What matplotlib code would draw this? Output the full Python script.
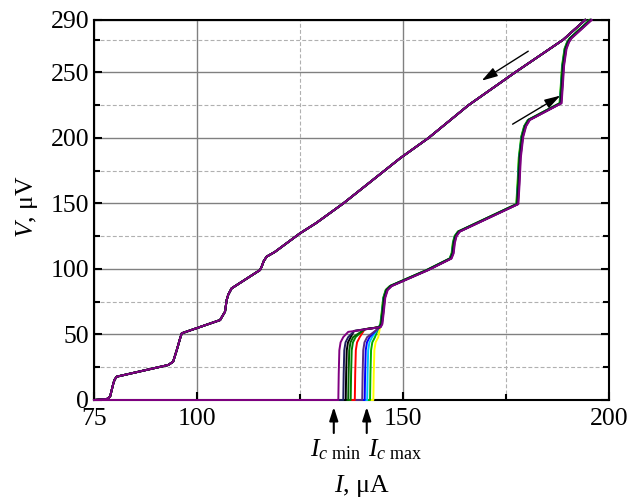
import matplotlib
matplotlib.use('Agg')
import matplotlib.pyplot as plt
from matplotlib.ticker import FixedLocator

plt.rcParams['font.family'] = ['Liberation Serif', 'DejaVu Serif']
plt.rcParams['mathtext.fontset'] = 'custom'
plt.rcParams['mathtext.rm'] = 'Liberation Serif'
plt.rcParams['mathtext.it'] = 'Liberation Serif:italic'
plt.rcParams['mathtext.bf'] = 'Liberation Serif:bold'

# ---------------- data ----------------
curve_colors = ['#FFFF00', '#00B000', '#00BFFF', '#0000FF', '#5A2A82',
                '#FF0000', '#008000', '#006400', '#000000', '#1F1F5F', '#800080']
switch_I = [142.8, 142.0, 141.3, 140.7, 140.1, 138.3, 137.3, 136.7, 136.1, 135.5, 134.3]
knee_I = [
    [142.8, 142.9, 143.05, 143.35, 144.0],
    [142.0, 142.1, 142.25, 142.55, 143.2],
    [141.3, 141.4, 141.55, 141.85, 142.5],
    [140.7, 140.8, 140.95, 141.25, 141.9],
    [140.1, 140.2, 140.35, 140.65, 141.3],
    [138.3, 138.4, 138.55, 138.85, 139.5],
    [137.3, 137.4, 137.55, 137.85, 138.5],
    [136.7, 136.8, 136.95, 137.25, 137.9],
    [136.1, 136.2, 136.35, 136.65, 137.3],
    [135.5, 135.6, 135.75, 136.05, 136.7],
    [134.3, 134.4, 134.55, 134.85, 135.5],
]
knee_V = [0, 20, 38, 44, 48]
step_shift = [-0.45, -0.5, -0.4, -0.35, -0.15, -0.3, -0.4, -0.25, -0.2, -0.1, 0.0]

# common increasing-current branch (after the first switching)
up_I = [136.7, 138.3, 141.0, 144.6, 145.0, 145.3, 145.7, 146.3, 147.3, 156.2,
        161.8, 162.3, 162.6, 163.0, 163.8, 178.0, 178.3, 178.6, 179.2, 179.9,
        180.8, 188.5, 188.8, 189.1, 189.7, 190.3, 190.9, 195.8]
up_V = [52.0, 52.7, 54.0, 55.6, 58, 66, 78, 84, 87, 99.2,
        108, 112, 120, 125, 128.5, 149.5, 165, 185, 201, 209,
        213.7, 226.5, 240, 255, 268, 273, 276, 290]

# decreasing-current branch
down_I = [194.2, 188.9, 177.2, 165.9, 156.2, 149.3, 135.5, 128.9, 125.0, 118.9,
          116.9, 116.2, 115.7, 115.3, 108.4, 107.6, 107.2, 106.8, 105.6, 96.3,
          95.9, 95.1, 94.2, 93.0, 80.5, 80.0, 79.7, 78.9, 78.1, 75.0]
down_V = [290, 275, 250, 225, 200, 184.5, 150, 135, 127.2, 113,
          109.4, 106, 101.8, 99.2, 85.2, 80.5, 76.3, 67.4, 61, 50.9,
          47, 38.2, 29.2, 26.7, 17.8, 15.5, 12.7, 2.5, 0.7, 0]

x_major = [75, 100, 150, 200]
x_minor = [125, 175]
y_major = [0, 50, 100, 150, 200, 250, 290]
y_minor = [25, 75, 125, 175, 225, 275]

ic_min, ic_max = 133.2, 141.2
sweep_arrows = [((180.4, 266.2), (169.1, 243.7)),   # (tail, head)
                ((176.6, 210.5), (188.2, 232.3))]

# ---------------- figure ----------------
fig = plt.figure(figsize=(6.36, 5.0), dpi=100)
ax = fig.add_axes([94 / 636, 100 / 500, 515 / 636, 380 / 500])
ax.set_xlim(75, 200)
ax.set_ylim(0, 290)

ax.xaxis.set_major_locator(FixedLocator(x_major))
ax.xaxis.set_minor_locator(FixedLocator(x_minor))
ax.yaxis.set_major_locator(FixedLocator(y_major))
ax.yaxis.set_minor_locator(FixedLocator(y_minor))
ax.set_axisbelow(True)
ax.grid(which='major', color='#808080', lw=1.0, ls='-')
ax.grid(which='minor', color='#b0b0b0', lw=0.8, ls=(0, (3.5, 2)))

for k, col in enumerate(curve_colors):
    xs = [75.0] + knee_I[k]
    ys = [0.0] + knee_V
    last = knee_I[k][-1]
    for xi, yi in zip(up_I, up_V):
        xi2 = xi + step_shift[k]
        if xi2 > last + 0.5:
            xs.append(xi2)
            ys.append(yi)
    ax.plot(xs, ys, color=col, lw=1.4, clip_on=False, zorder=3,
            solid_joinstyle='round')
    ax.plot(down_I, down_V, color=col, lw=1.4, clip_on=False, zorder=3,
            solid_joinstyle='round')

for tail, head in sweep_arrows:
    ax.annotate('', xy=head, xytext=tail,
                arrowprops=dict(arrowstyle='-|>,head_length=0.6,head_width=0.18',
                                color='black', lw=1.0, mutation_scale=16,
                                shrinkA=0, shrinkB=0))

for ic in (ic_min, ic_max):
    ax.annotate('', xy=(ic, -5.3), xytext=(ic, -25.2), annotation_clip=False,
                arrowprops=dict(arrowstyle='-|>,head_length=0.5,head_width=0.16',
                                color='black', lw=1.5, mutation_scale=16,
                                shrinkA=0, shrinkB=0))
ax.text(133.6, -42.7, r'$I_{c\ \mathrm{min}}$', ha='center', va='baseline',
        fontsize=18.5, clip_on=False)
ax.text(148.1, -42.7, r'$I_{c\ \mathrm{max}}$', ha='center', va='baseline',
        fontsize=18.5, clip_on=False)

for s in ax.spines.values():
    s.set_linewidth(1.5)
ax.tick_params(which='both', direction='in', right=True, top=False,
               width=1.5, labelsize=18.5)
ax.tick_params(which='major', length=5.5)
ax.tick_params(which='minor', length=4)
ax.tick_params(axis='x', pad=6)
ax.tick_params(axis='y', pad=3.5)

ax.set_xlabel(r'$I$, μA', fontsize=18.5)
ax.xaxis.set_label_coords(0.52, -0.193)
ax.set_ylabel(r'$V$, μV', fontsize=18.5)
ax.yaxis.set_label_coords(-0.105, 0.51)

fig.savefig('out.png', dpi=100)
